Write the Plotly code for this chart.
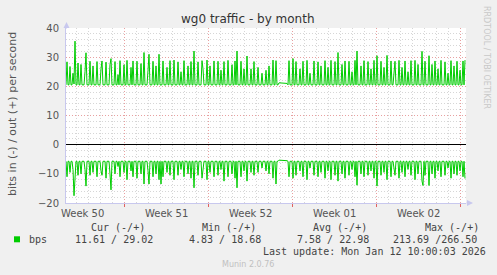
import plotly.graph_objects as go
import pandas as pd

# ---------------- data ----------------
start_time = "2025-12-10 04:00"
sample_step = "2h"
x_range = ["2025-12-10 04:00", "2026-01-12 12:00"]

out_bps = [
    20.5, 28.4, 20.5, 20.5, 26.8, 20.5, 20.5, 24.5, 20.8, 35.5,
    20.5, 20.5, 28.0, 20.5, 20.5, 27.5, 20.5, 20.5, 20.5, 25.0,
    31.5, 20.5, 20.5, 20.5, 28.6, 20.5, 20.5, 27.0, 20.5, 20.5,
    20.5, 28.5, 20.5, 20.5, 20.5, 26.0, 28.7, 20.5, 20.5, 20.5,
    28.3, 20.5, 20.5, 20.5, 27.5, 29.5, 20.5, 20.5, 20.5, 28.5,
    20.5, 20.5, 24.0, 20.5, 28.8, 20.5, 20.5, 20.5, 27.4, 20.5,
    20.5, 28.9, 20.5, 20.5, 20.5, 26.5, 20.5, 28.7, 20.5, 20.5,
    20.5, 28.6, 20.5, 20.5, 20.5, 27.8, 20.5, 20.5, 31.6, 20.5,
    20.5, 20.5, 25.5, 31.0, 20.5, 20.5, 20.5, 28.6, 20.5, 20.5,
    27.0, 20.5, 20.5, 31.0, 20.5, 20.5, 20.5, 28.7, 20.5, 20.5,
    20.5, 26.5, 20.5, 20.5, 28.8, 20.5, 20.5, 20.5, 29.0, 20.5,
    20.5, 20.5, 28.4, 20.5, 20.5, 25.0, 20.5, 20.5, 28.8, 20.5,
    20.5, 20.5, 27.0, 20.5, 20.5, 28.5, 20.5, 20.5, 32.1, 20.5,
    20.5, 20.5, 28.4, 20.5, 20.5, 20.5, 28.8, 26.0, 20.5, 20.5,
    20.5, 29.0, 20.5, 20.5, 27.0, 20.5, 20.5, 20.5, 28.7, 20.5,
    20.5, 20.5, 28.6, 20.5, 20.5, 25.5, 20.5, 20.5, 28.5, 20.5,
    20.5, 20.5, 28.9, 20.5, 20.5, 20.5, 27.4, 20.5, 20.5, 28.7,
    20.5, 32.1, 20.5, 20.5, 20.5, 28.6, 20.5, 20.5, 26.0, 20.5,
    20.5, 30.4, 20.5, 20.5, 20.5, 26.0, 20.5, 20.5, 28.5, 20.5,
    20.5, 20.5, 26.5, 20.5, 20.5, 20.5, 24.5, 20.5, 20.5, 20.5,
    25.5, 20.5, 20.5, 27.0, 20.5, 20.5, 20.5, 29.0, 20.5, 20.5,
    28.8, 20.5, 20.5, 21.2, 21.2, 21.2, 21.2, 21.2, 21.2, 21.2,
    21.2, 21.0, 20.5, 28.8, 20.5, 20.5, 20.5, 29.5, 20.5, 20.5,
    28.5, 20.5, 20.5, 20.5, 26.0, 20.5, 20.5, 28.6, 20.5, 20.5,
    20.5, 28.9, 20.5, 20.5, 24.5, 20.5, 20.5, 20.5, 28.7, 20.5,
    20.5, 20.5, 28.4, 20.5, 20.5, 27.0, 20.5, 20.5, 20.5, 28.8,
    20.5, 20.5, 26.5, 20.5, 20.5, 28.9, 20.5, 20.5, 20.5, 28.5,
    20.5, 20.5, 31.6, 20.5, 20.5, 20.5, 27.5, 20.5, 20.5, 28.7,
    20.5, 20.5, 20.5, 28.6, 20.5, 20.5, 25.0, 20.5, 20.5, 28.9,
    20.5, 32.1, 20.5, 20.5, 20.5, 27.0, 20.5, 20.5, 28.8, 20.5,
    20.5, 20.5, 28.5, 20.5, 20.5, 26.0, 20.5, 20.5, 28.9, 20.5,
    20.5, 30.5, 20.5, 20.5, 20.5, 28.6, 20.5, 20.5, 26.5, 20.5,
    20.5, 30.6, 20.5, 20.5, 20.5, 28.7, 20.5, 20.5, 24.0, 28.6,
    20.5, 20.5, 20.5, 28.9, 20.5, 20.5, 26.5, 20.5, 20.5, 28.7,
    20.5, 20.5, 25.0, 20.5, 20.5, 28.8, 20.5, 20.5, 20.5, 28.9,
    20.5, 20.5, 27.5, 20.5, 20.5, 20.5, 32.0, 20.5, 20.5, 28.6,
    20.5, 20.5, 20.5, 30.5, 20.5, 20.5, 27.5, 20.5, 20.5, 28.7,
    20.5, 20.5, 26.0, 20.5, 20.5, 28.9, 20.5, 20.5, 20.5, 28.4,
    20.5, 20.5, 24.5, 20.5, 20.5, 28.8, 20.5, 20.5, 27.0, 20.5,
    20.5, 28.6, 20.5, 20.5, 25.5, 20.5, 20.5, 28.7, 20.5, 29.0,
]

in_bps_neg = [
    -5.7, -11.0, -5.7, -5.7, -9.5, -5.7, -5.7, -8.5, -17.5, -9.0,
    -5.7, -5.7, -10.5, -5.7, -5.7, -10.0, -5.7, -5.7, -5.7, -8.5,
    -14.2, -5.7, -5.7, -5.7, -10.5, -5.7, -5.7, -9.5, -5.7, -5.7,
    -5.7, -11.0, -5.7, -5.7, -5.7, -9.0, -10.5, -5.7, -5.7, -5.7,
    -11.5, -5.7, -5.7, -5.7, -10.0, -15.5, -5.7, -5.7, -5.7, -10.0,
    -5.7, -5.7, -7.5, -5.7, -11.0, -5.7, -5.7, -5.7, -9.5, -5.7,
    -5.7, -12.0, -5.7, -5.7, -5.7, -9.0, -5.7, -11.0, -5.7, -5.7,
    -5.7, -11.5, -5.7, -5.7, -5.7, -10.0, -5.7, -5.7, -13.5, -5.7,
    -5.7, -5.7, -9.0, -13.5, -5.7, -5.7, -5.7, -11.0, -5.7, -5.7,
    -10.0, -5.7, -5.7, -12.0, -5.7, -13.5, -5.7, -11.0, -5.7, -5.7,
    -5.7, -9.5, -5.7, -5.7, -10.5, -5.7, -5.7, -5.7, -12.0, -5.7,
    -5.7, -5.7, -10.5, -5.7, -5.7, -8.5, -5.7, -5.7, -11.0, -5.7,
    -5.7, -5.7, -10.0, -5.7, -5.7, -11.5, -5.7, -5.7, -14.8, -5.7,
    -5.7, -5.7, -10.5, -5.7, -5.7, -5.7, -11.5, -9.0, -5.7, -5.7,
    -5.7, -12.0, -5.7, -5.7, -9.5, -5.7, -5.7, -5.7, -11.0, -5.7,
    -5.7, -5.7, -10.5, -5.7, -5.7, -8.5, -5.7, -5.7, -12.5, -5.7,
    -5.7, -5.7, -11.0, -5.7, -5.7, -5.7, -10.0, -5.7, -5.7, -11.5,
    -5.7, -14.8, -5.7, -5.7, -5.7, -11.0, -5.7, -5.7, -9.0, -5.7,
    -5.7, -12.5, -5.7, -5.7, -5.7, -9.5, -5.7, -5.7, -10.5, -5.7,
    -5.7, -5.7, -9.5, -5.7, -5.7, -5.7, -8.0, -5.7, -5.7, -5.7,
    -9.0, -5.7, -5.7, -10.0, -5.7, -5.7, -5.7, -11.5, -5.7, -5.7,
    -13.5, -5.7, -5.7, -5.3, -5.3, -5.3, -5.3, -5.3, -5.3, -5.3,
    -5.3, -5.5, -5.7, -11.0, -5.7, -5.7, -5.7, -11.5, -5.7, -5.7,
    -10.5, -5.7, -5.7, -5.7, -9.0, -5.7, -5.7, -11.0, -5.7, -5.7,
    -5.7, -12.0, -5.7, -5.7, -8.0, -5.7, -5.7, -5.7, -10.5, -5.7,
    -5.7, -5.7, -11.0, -5.7, -5.7, -9.5, -5.7, -5.7, -5.7, -11.5,
    -5.7, -5.7, -9.0, -5.7, -5.7, -12.0, -5.7, -5.7, -5.7, -10.5,
    -5.7, -5.7, -12.5, -5.7, -5.7, -5.7, -10.0, -5.7, -5.7, -11.5,
    -5.7, -5.7, -5.7, -10.5, -5.7, -5.7, -8.5, -5.7, -5.7, -11.0,
    -5.7, -13.9, -5.7, -5.7, -5.7, -10.0, -5.7, -5.7, -11.0, -5.7,
    -5.7, -5.7, -10.5, -5.7, -5.7, -9.0, -5.7, -5.7, -11.5, -5.7,
    -5.7, -14.2, -5.7, -5.7, -5.7, -10.5, -5.7, -5.7, -9.5, -5.7,
    -5.7, -12.0, -5.7, -5.7, -5.7, -11.0, -5.7, -5.7, -8.0, -10.5,
    -5.7, -5.7, -5.7, -11.5, -5.7, -5.7, -9.5, -5.7, -5.7, -11.0,
    -5.7, -5.7, -8.5, -5.7, -5.7, -10.5, -5.7, -5.7, -5.7, -12.0,
    -5.7, -5.7, -10.0, -5.7, -5.7, -5.7, -12.5, -14.0, -5.7, -10.5,
    -5.7, -5.7, -5.7, -14.0, -5.7, -5.7, -10.0, -5.7, -5.7, -11.5,
    -5.7, -5.7, -9.0, -5.7, -5.7, -11.0, -5.7, -5.7, -5.7, -10.5,
    -5.7, -5.7, -8.0, -5.7, -5.7, -11.5, -5.7, -5.7, -10.0, -5.7,
    -5.7, -10.5, -5.7, -5.7, -9.0, -5.7, -5.7, -11.0, -5.7, -11.6,
]

week_starts = ["2025-12-08", "2025-12-15", "2025-12-22", "2025-12-29", "2026-01-05"]
week_labels = ["Week 50", "Week 51", "Week 52", "Week 01", "Week 02"]
y_range = [-20, 40]

title_text = "wg0 traffic - by month"
y_title = "bits in (-) / out (+) per second"
legend_headers = ["Cur (-/+)", "Min (-/+)", "Avg (-/+)", "Max (-/+)"]
legend_values = ["11.61 / 29.02", "4.83 / 18.68", "7.58 / 22.98", "213.69 /266.50"]
series_name = "bps"
last_update = "Last update: Mon Jan 12 10:00:03 2026"
munin_ver = "Munin 2.0.76"
side_text = "RRDTOOL / TOBI OETIKER"

# ---------------- layout geometry (pixels) ----------------
W, H = 497, 275
L, R, T, B = 66, 31, 28, 72
PW, PH = W - L - R, H - T - B

def px(x):
    return (x - L) / PW

def py(y):
    return (H - B - y) / PH

GREEN = "#00CC00"
AXIS_LINE = "#C8C8EE"
MAJOR_GRID = "#E8A0A0"
MINOR_GRID = "#D6D6D6"
TXT = "#555555"
LEG = "#444444"

times = pd.date_range(start_time, periods=len(out_bps), freq=sample_step)
week_mids = [pd.Timestamp(w) + pd.Timedelta(hours=84) for w in week_starts]

fig = go.Figure()
fig.add_trace(go.Scatter(x=times, y=out_bps, mode="lines",
                         line=dict(color=GREEN, width=1), showlegend=False,
                         hoverinfo="skip"))
fig.add_trace(go.Scatter(x=times, y=in_bps_neg, mode="lines",
                         line=dict(color=GREEN, width=1), showlegend=False,
                         hoverinfo="skip"))

fig.update_layout(
    width=W, height=H,
    margin=dict(l=L, r=R, t=T, b=B, pad=0),
    paper_bgcolor="#F0F0F0", plot_bgcolor="#FFFFFF",
    font=dict(family="DejaVu Sans", size=10, color=TXT),
    showlegend=False,
)

fig.update_xaxes(
    type="date", range=x_range,
    tick0=week_starts[1], dtick=7 * 86400000,
    showgrid=True, gridcolor=MAJOR_GRID, griddash="1px,2px", gridwidth=1,
    ticks="outside", ticklen=3, tickcolor="#E06060", tickwidth=1,
    showticklabels=False,
    showline=True, linecolor=AXIS_LINE, linewidth=1,
    zeroline=False,
    minor=dict(dtick=86400000, tick0=week_starts[1], showgrid=True,
               gridcolor=MINOR_GRID, griddash="1px,2px", gridwidth=1, ticks=""),
)

fig.update_yaxes(
    range=y_range, dtick=10, tick0=0,
    showgrid=True, gridcolor=MAJOR_GRID, griddash="1px,2px", gridwidth=1,
    minor=dict(dtick=2, showgrid=True, gridcolor=MINOR_GRID,
               griddash="1px,2px", gridwidth=1, ticks=""),
    zeroline=True, zerolinecolor="#000000", zerolinewidth=1,
    showline=True, linecolor=AXIS_LINE, linewidth=1,
    ticks="", ticklabelstandoff=4,
    tickfont=dict(family="DejaVu Sans", size=10, color=TXT),
)

ann = []
for wm, lab in zip(week_mids, week_labels):
    ann.append(dict(x=wm, y=0, xref="x", yref="paper", text=lab, showarrow=False,
                    xanchor="center", yanchor="top", yshift=-3,
                    font=dict(family="DejaVu Sans", size=10, color=TXT)))
ann.append(dict(x=px(248), y=py(19), xref="paper", yref="paper", text=title_text,
                showarrow=False, xanchor="center", yanchor="middle",
                font=dict(family="DejaVu Sans", size=12, color="#333333")))
ann.append(dict(x=px(12), y=py(114), xref="paper", yref="paper", text=y_title,
                showarrow=False, textangle=-90, xanchor="center", yanchor="middle",
                font=dict(family="DejaVu Sans", size=11, color=TXT)))
ann.append(dict(x=px(487), y=py(57), xref="paper", yref="paper", text=side_text,
                showarrow=False, textangle=90, xanchor="center", yanchor="middle",
                font=dict(family="DejaVu Sans", size=8, color="#C8C8C8")))
ann.append(dict(x=px(66.5), y=py(22), xref="paper", yref="paper", text="",
                showarrow=True, ax=0, ay=8, arrowhead=2, arrowsize=1.2,
                arrowwidth=1, arrowcolor=AXIS_LINE))
ann.append(dict(x=px(473), y=py(203), xref="paper", yref="paper", text="",
                showarrow=True, ax=-8, ay=0, arrowhead=2, arrowsize=1.2,
                arrowwidth=1, arrowcolor=AXIS_LINE))

MONO = "DejaVu Sans Mono"
hdr_left = [89, 200, 311, 423]
val_left = [73, 187, 295, 391]
for xl, t in zip(hdr_left, legend_headers):
    ann.append(dict(x=px(xl), y=py(227.7), xref="paper", yref="paper", text=t,
                    showarrow=False, xanchor="left", yanchor="middle",
                    font=dict(family=MONO, size=10, color=LEG)))
for xl, t in zip(val_left, legend_values):
    ann.append(dict(x=px(xl), y=py(239.3), xref="paper", yref="paper", text=t,
                    showarrow=False, xanchor="left", yanchor="middle",
                    font=dict(family=MONO, size=10, color=LEG)))
ann.append(dict(x=px(26.5), y=py(239.3), xref="paper", yref="paper", text=series_name,
                showarrow=False, xanchor="left", yanchor="middle",
                font=dict(family=MONO, size=10, color=LEG)))
ann.append(dict(x=px(261), y=py(251.7), xref="paper", yref="paper", text=last_update,
                showarrow=False, xanchor="left", yanchor="middle",
                font=dict(family=MONO, size=10, color=LEG)))
ann.append(dict(x=px(248), y=py(264.3), xref="paper", yref="paper", text=munin_ver,
                showarrow=False, xanchor="center", yanchor="middle",
                font=dict(family="DejaVu Sans", size=8, color="#C0C0C0")))
fig.update_layout(annotations=ann)

fig.add_shape(type="rect", xref="paper", yref="paper",
              x0=px(14), x1=px(20), y0=py(242.3), y1=py(236.3),
              fillcolor=GREEN, line=dict(width=0))

fig.write_html("out.html")
